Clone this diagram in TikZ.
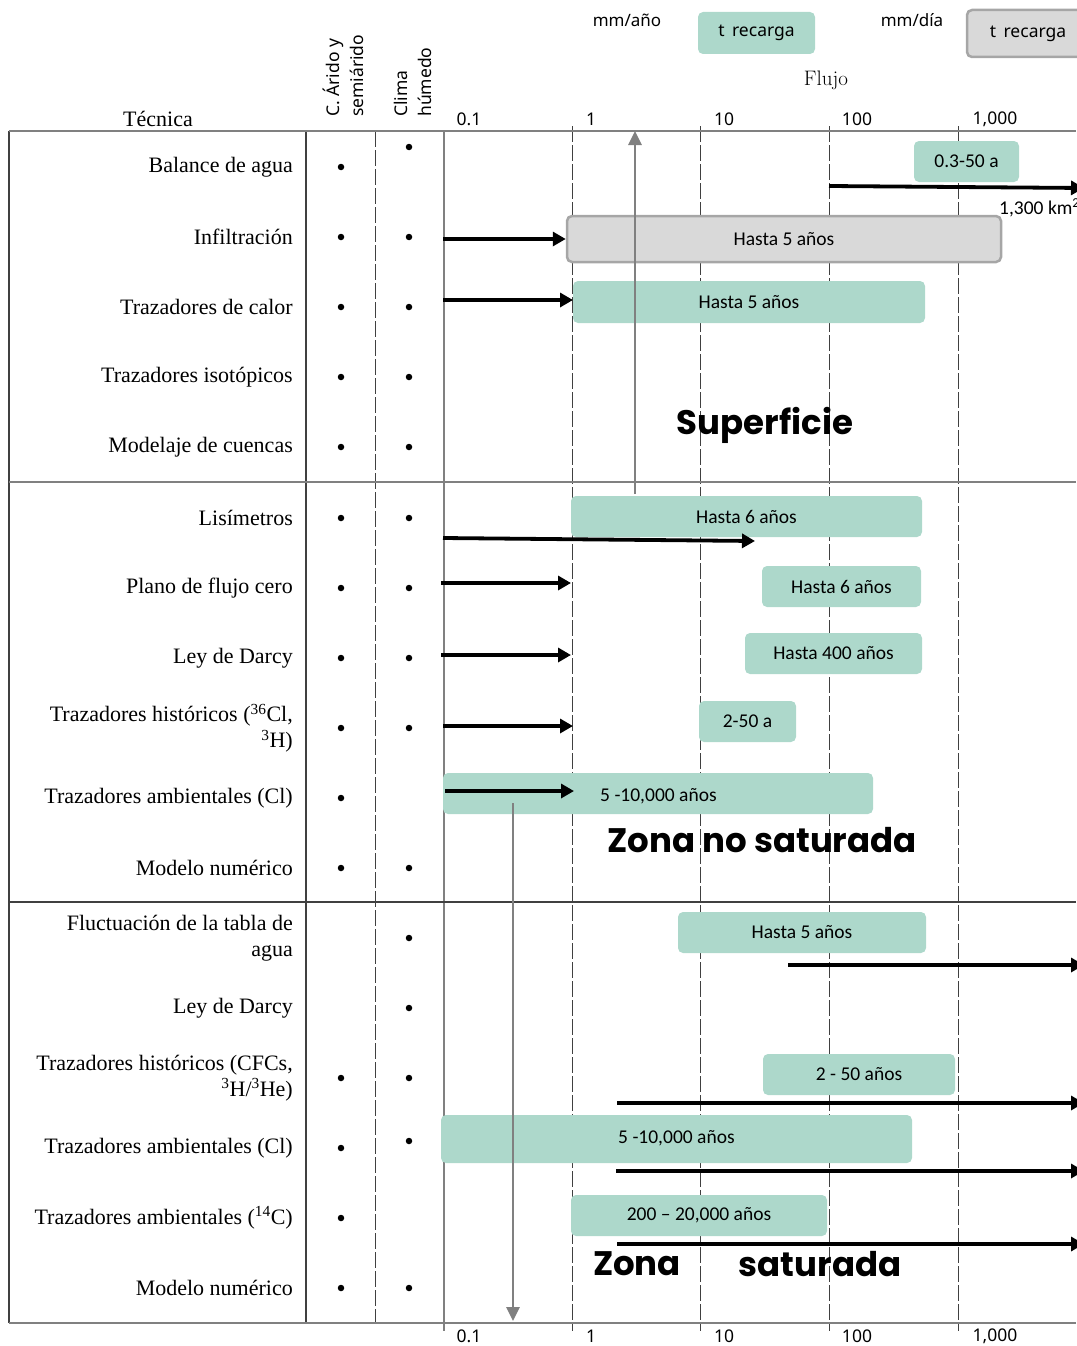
\documentclass[tikz,border=0pt]{standalone}
\usepackage{fontspec}
\setmainfont{Liberation Serif}
\newfontfamily\uifont{Noto Sans}
\newfontfamily\barfont{Carlito}
\newfontfamily\heavyfont{Poppins}
\usetikzlibrary{arrows.meta}

\definecolor{barfill}{RGB}{173,216,203}
\definecolor{boxgray}{RGB}{217,217,217}
\definecolor{boxedge}{RGB}{166,166,166}
\definecolor{gridcol}{RGB}{64,64,64}
\definecolor{axiscol}{RGB}{128,128,128}

\tikzset{
  rowlabel/.style={anchor=east, align=right, inner sep=0pt,
    font=\fontsize{22}{26}\selectfont},
  tick/.style={font=\uifont\fontsize{17.5}{20}\selectfont, inner sep=0pt},
  colhead/.style={rotate=90, anchor=south west, align=left, inner sep=0pt,
    font=\uifont\fontsize{17.5}{24}\selectfont},
  unit/.style={font=\uifont\fontsize{17}{20}\selectfont, inner sep=0pt},
  bar/.style={fill=barfill, rounded corners=5pt, inner sep=0pt,
    font=\barfont\fontsize{19.5}{22}\selectfont},
  graybar/.style={bar, fill=boxgray, draw=boxedge, line width=2.5pt},
  bartext/.style={font=\barfont\fontsize{19.5}{22}\selectfont, inner sep=0pt},
  mark dot/.style={circle, fill=black, inner sep=0pt, minimum size=6.5pt},
  zone/.style={font=\heavyfont\bfseries\fontsize{34}{40}\selectfont, inner sep=0pt},
  gridline/.style={gridcol, line width=1pt, dash pattern=on 16pt off 3pt},
  frame/.style={gridcol, line width=1.2pt},
  hline/.style={axiscol, line width=2pt},
  flow/.style={black, line width=3.8pt,
    -{Triangle[length=13pt,width=14pt]}},
  scale arrow/.style={axiscol, line width=2.8pt,
    -{Triangle[length=14pt,width=13pt]}},
}

\begin{document}
\begin{tikzpicture}[x=1pt, y=-1pt]
\useasboundingbox (0,0) rectangle (1076,1346);

% ---------- header ----------
\node[anchor=base, inner sep=0pt, font=\fontsize{22}{26}\selectfont] (tecnica) at (158,126) {Técnica};
\node[colhead] (arido) at (364,117) {C. Árido y\\semiárido};
\node[colhead] (humedo) at (432,117) {Clima\\húmedo};
\node[unit] (mmyear) at (627,20) {mm/año};
\node[unit] (mmday) at (912,20) {mm/día};
\node[bar, minimum width=117pt, minimum height=42pt, font=\uifont\fontsize{17.5}{20}\selectfont]
  (legendgreen) at (756.5,33) {t\, recarga};
\node[graybar, minimum width=122pt, minimum height=47pt, font=\uifont\fontsize{17.5}{20}\selectfont]
  (legendgray) at (1028,33.5) {t\, recarga};
\node[inner sep=0pt, font=\fontspec{Latin Modern Roman}\fontsize{21}{24}\selectfont] (flujo) at (826,80) {Flujo};

% ---------- scale labels (top and bottom) ----------
\foreach \lx/\txt [count=\i] in {469/0.1, 591/1, 724/10, 857/100, 995/{1,000}} {
  \node[tick] (top\i) at (\lx,119) {\txt};
  \node[tick] (bot\i) at (\lx,1336) {\txt};
}

% ---------- grid ----------
\foreach \gx in {572,700,829,958}
  \draw[gridline] (\gx,126) -- (\gx,1331);
\draw[gridline] (375,131) -- (375,1323);
\draw[frame] (306,131) -- (306,1323);
\draw[axiscol, line width=1.5pt] (444,131) -- (444,1331);
\draw[frame] (9,131) -- (9,1323);
\draw[hline] (9,131) -- (1076,131);
\draw[hline] (9,482) -- (1076,482);
\draw[frame] (9,902) -- (1076,902);
\draw[hline] (9,1323) -- (1076,1323);

% ---------- row labels ----------
\foreach \ry/\txt [count=\i] in {
  167/{Balance de agua},
  237/{Infiltración},
  307/{Trazadores de calor},
  377/{Trazadores isotópicos},
  447/{Modelaje de cuencas},
  518/{Lisímetros},
  588/{Plano de flujo cero},
  658/{Ley de Darcy},
  728/{Trazadores históricos (\textsuperscript{36}Cl,\\\textsuperscript{3}H)},
  798/{Trazadores ambientales (Cl)},
  868/{Modelo numérico},
  938/{Fluctuación de la tabla de\\agua},
  1008/{Ley de Darcy},
  1078/{Trazadores históricos (CFCs,\\\textsuperscript{3}H/\textsuperscript{3}He)},
  1148/{Trazadores ambientales (Cl)},
  1218/{Trazadores ambientales (\textsuperscript{14}C)},
  1288/{Modelo numérico}}
  \node[rowlabel] (row\i) at (293,\ry) {\txt};

% ---------- climate marks ----------
\foreach \dx/\dy [count=\i] in {
  341/167, 409/147, 341/237, 409/237, 341/307, 409/307, 341/377, 409/377,
  341/447, 409/447, 341/518, 409/518, 341/588, 409/588, 341/658, 409/658,
  341/728, 409/728, 341/798, 341/868, 409/868, 409/938, 409/1008,
  341/1078, 409/1078, 341/1148, 409/1141, 341/1218, 341/1288, 409/1288}
  \node[mark dot] (dot\i) at (\dx,\dy) {};

% ---------- recharge-time bars ----------
\node[bar, minimum width=105pt, minimum height=41pt] (balbar) at (966.5,161.5) {0.3-50 a};
\node[graybar, minimum width=434pt, minimum height=46pt] (infbar) at (784,239) {Hasta 5 años};
\node[bar, minimum width=352pt, minimum height=42pt] (calbar) at (749,302) {Hasta 5 años};
\node[bar, minimum width=351pt, minimum height=41pt] (lisbar) at (746.5,516.5) {Hasta 6 años};
\node[bar, minimum width=159pt, minimum height=41pt] (plabar) at (841.5,586.5) {Hasta 6 años};
\node[bar, minimum width=177pt, minimum height=41pt] (darbar) at (833.5,653.5) {Hasta 400 años};
\node[bar, minimum width=97pt, minimum height=41pt] (hisbar) at (747.5,721.5) {2-50 a};
\node[bar, minimum width=430pt, minimum height=41pt] (ambbar) at (658,793.5) {};
\node[bartext, anchor=west] (ambtext) at (600,796) {5 -10,000 años};
\node[bar, minimum width=248pt, minimum height=41pt] (flubar) at (802,932.5) {Hasta 5 años};
\node[bar, minimum width=192pt, minimum height=41pt] (cfcbar) at (859,1074.5) {2 - 50 años};
\node[bar, minimum width=471pt, minimum height=48pt] (clbar) at (676.5,1139) {};
\node[bartext, anchor=west] (cltext) at (618,1138) {5 -10,000 años};
\node[bar, minimum width=256pt, minimum height=41pt] (cbar) at (699,1215.5) {200 – 20,000 años};
\node[bartext, anchor=west] (area) at (999,208) {1,300 km\textsuperscript{2}};

% ---------- flow arrows ----------
\coordinate (balA) at (829,186);  \coordinate (balB) at (1084,188);
\coordinate (infA) at (443,239);
\coordinate (calA) at (443,300);  \coordinate (calB) at (573,300);
\coordinate (lisA) at (443,538);  \coordinate (lisB) at (755,541);
\coordinate (plaA) at (441,583);  \coordinate (plaB) at (571,583);
\coordinate (darA) at (441,655);  \coordinate (darB) at (571,655);
\coordinate (hisA) at (443,726);  \coordinate (hisB) at (573,726);
\coordinate (ambA) at (445,791);  \coordinate (ambB) at (574,791);
\coordinate (fluA) at (788,965);  \coordinate (fluB) at (1084,965);
\coordinate (cfcA) at (617,1103); \coordinate (cfcB) at (1084,1103);
\coordinate (clA) at (616,1171);  \coordinate (clB) at (1084,1171);
\coordinate (cA) at (617,1244);   \coordinate (cB) at (1084,1244);

\draw[flow] (balA) -- (balB);
\draw[flow] (infA) -- (infbar.west);
\draw[flow] (calA) -- (calB);
\draw[flow] (lisA) -- (lisB);
\draw[flow] (plaA) -- (plaB);
\draw[flow] (darA) -- (darB);
\draw[flow] (hisA) -- (hisB);
\draw[flow] (ambA) -- (ambB);
\draw[flow] (fluA) -- (fluB);
\draw[flow] (cfcA) -- (cfcB);
\draw[flow] (clA) -- (clB);
\draw[flow] (cA) -- (cB);

% ---------- depth arrows ----------
\coordinate (upA) at (635,494);   \coordinate (upB) at (635,131);
\coordinate (downA) at (513,803); \coordinate (downB) at (513,1321);
\draw[scale arrow] (upA) -- (upB);
\draw[scale arrow] (downA) -- (downB);

% ---------- zone names ----------
\node[zone] (sup) at (765,425) {Superficie};
\node[zone] (nosat) at (762,840) {Zona no saturada};
\node[zone] (zona) at (637,1264) {Zona};
\node[zone] (sat) at (820,1264) {saturada};
\end{tikzpicture}
\end{document}
